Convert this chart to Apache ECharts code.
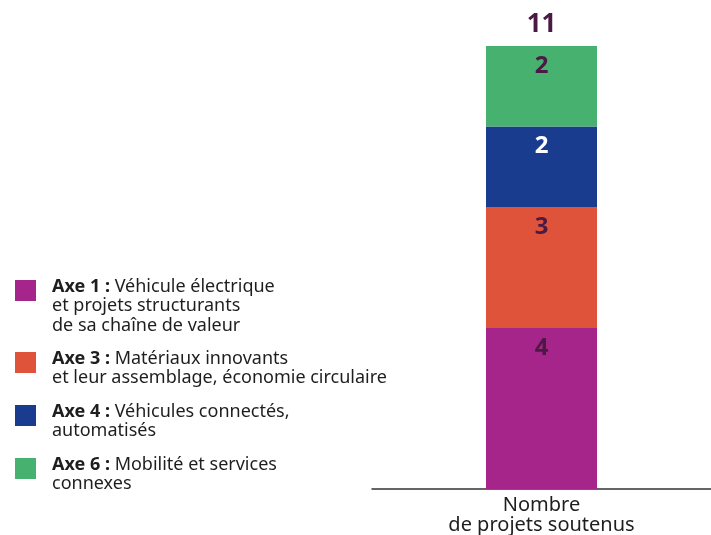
<!DOCTYPE html>
<html>
<head>
<meta charset="utf-8">
<script src="https://cdn.jsdelivr.net/npm/echarts@6/dist/echarts.min.js"></script>
<style>
  html, body { margin: 0; padding: 0; background: #fff; }
  #chart { width: 711px; height: 535px; }
</style>
</head>
<body>
<div id="chart"></div>
<script>
// data
const categories = ['Nombre\nde projets soutenus'];
const axeNames = ['Axe 1', 'Axe 3', 'Axe 4', 'Axe 6'];
const axeTexts = [
  'Véhicule électrique\net projets structurants\nde sa chaîne de valeur',
  'Matériaux innovants\net leur assemblage, économie circulaire',
  'Véhicules connectés,\nautomatisés',
  'Mobilité et services\nconnexes'
];
const axeValues = [4, 3, 2, 2];
const colors = ['#a6258a', '#df533a', '#193c8e', '#47b26f'];
const labelColors = ['#4a1a45', '#4a1a45', '#ffffff', '#4a1a45'];

const total = axeValues.reduce((a, b) => a + b, 0);
const font = '"Noto Sans", sans-serif';
const darkText = '#4a1a45';

var myChart = echarts.init(document.getElementById('chart'));

const series = axeValues.map((v, i) => {
  return {
    name: axeNames[i],
    type: 'bar',
    stack: 'total',
    barWidth: 111,
    itemStyle: { color: colors[i] },
    label: {
      show: true,
      position: 'insideTop',
      distance: 8,
      color: labelColors[i],
      fontFamily: font,
      fontWeight: 'bold',
      fontSize: 24
    },
    data: [v]
  };
});

// total on top
series.push({
  name: 'total',
  type: 'scatter',
  symbolSize: 0,
  itemStyle: { opacity: 1 },
  label: {
    show: true,
    position: 'top',
    distance: 8,
    color: darkText,
    fontFamily: font,
    fontWeight: 'bold',
    fontSize: 26
  },
  data: [total]
});

// legend as graphics (icon aligned with first line)
const legendTops = [280, 352, 405, 458];
const legendGraphics = [];
axeNames.forEach((name, i) => {
  legendGraphics.push({
    type: 'rect',
    left: 15,
    top: legendTops[i],
    shape: { width: 21, height: 21 },
    style: { fill: colors[i] }
  });
  legendGraphics.push({
    type: 'text',
    left: 52,
    top: legendTops[i] - 3,
    style: {
      text: '{b|' + name + ' :} ' + axeTexts[i],
      fontFamily: font,
      fontSize: 18,
      lineHeight: 19.5,
      fill: '#1e1e1e',
      rich: {
        b: { fontFamily: font, fontSize: 18, fontWeight: 'bold', lineHeight: 19.5, fill: '#1e1e1e' }
      }
    }
  });
});

const option = {
  animation: false,
  grid: {
    left: 372,
    right: 0,
    top: 46,
    bottom: 46,
    outerBoundsMode: 'none'
  },
  xAxis: {
    type: 'category',
    data: categories,
    axisLine: { lineStyle: { color: '#333', width: 1.5 } },
    axisTick: { show: false },
    axisLabel: {
      color: '#1e1e1e',
      fontFamily: font,
      fontSize: 20,
      lineHeight: 20.5,
      margin: 6
    }
  },
  yAxis: {
    type: 'value',
    min: 0,
    max: 11,
    show: false
  },
  graphic: legendGraphics,
  series: series
};

myChart.setOption(option);
</script>
</body>
</html>
